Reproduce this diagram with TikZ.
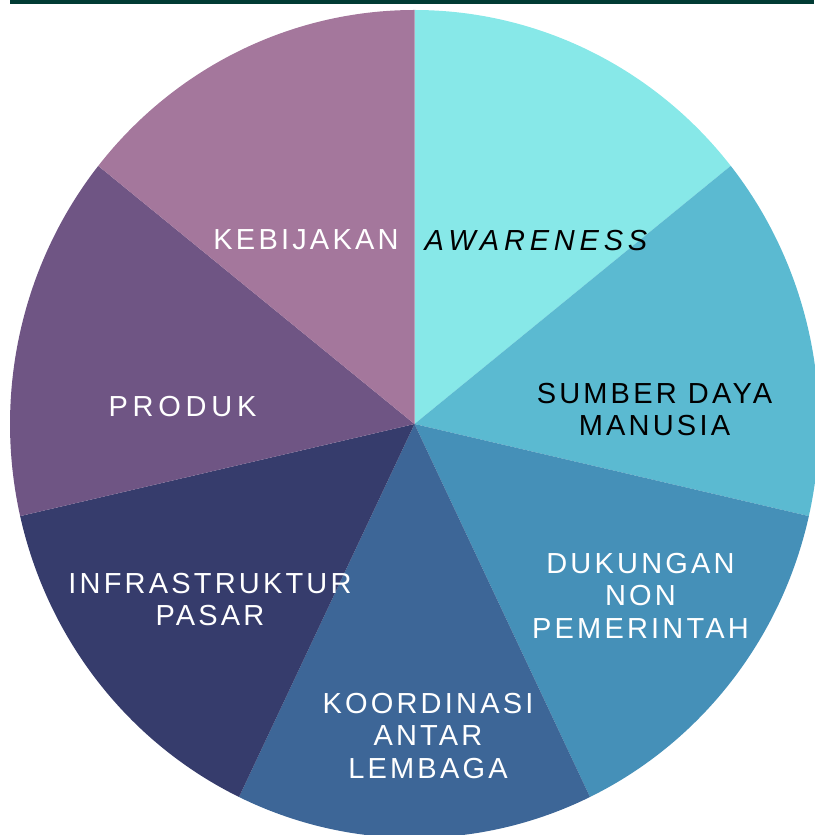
\documentclass[tikz,border=0pt]{standalone}
\usepackage{fontspec}
\setmainfont{Liberation Sans}
\newfontfamily\lblfont[LetterSpace=11]{Liberation Sans}
\newfontfamily\widefont[LetterSpace=16.5]{Liberation Sans}
\definecolor{cAware}{HTML}{87E8E8}
\definecolor{cSumber}{HTML}{5BBAD1}
\definecolor{cDukung}{HTML}{4590B8}
\definecolor{cKoord}{HTML}{3D6697}
\definecolor{cInfra}{HTML}{363C6C}
\definecolor{cProduk}{HTML}{6F5584}
\definecolor{cKebij}{HTML}{A4779C}
\definecolor{cTop}{HTML}{013B34}
\begin{document}
\begin{tikzpicture}[x=1pt,y=1pt,
  lbl/.style={anchor=north,inner sep=0pt,align=center,
    font=\lblfont\fontsize{29}{32.5}\selectfont},
  wide/.style={font=\widefont\fontsize{29}{32.5}\selectfont},
  wlbl/.style={lbl,text=white},
  blbl/.style={lbl,text=black}]
\useasboundingbox (0,0) rectangle (814,835);
\fill[cTop] (10,831.3) rectangle (814,835);
\coordinate (c) at (414.5,411);
\def\rx{404.5}\def\ry{414}
\foreach \s/\e/\col in {90/38.5714/cAware, 38.5714/-12.8571/cSumber,
  -12.8571/-64.2857/cDukung, -64.2857/-115.7143/cKoord,
  -115.7143/-167.1429/cInfra, -167.1429/-218.5714/cProduk,
  -218.5714/-270/cKebij}{
  \fill[\col] (c) -- ++(\s:\rx pt and \ry pt)
    arc[start angle=\s,end angle=\e,x radius=\rx pt,y radius=\ry pt] -- cycle;
}
\node[wlbl] (kebij) at (306,605.4) {KEBIJAKAN};
\node[blbl,font=\widefont\itshape\fontsize{29}{32.5}\selectfont] (aware) at (536,605.4) {AWARENESS};
\node[blbl] (sumber) at (654.5,452.4) {SUMBER DAYA\\MANUSIA};
\node[wlbl] (dukung) at (640.5,282) {DUKUNGAN\\NON\\PEMERINTAH};
\node[wlbl] (koord) at (428,142) {KOORDINASI\\ANTAR\\LEMBAGA};
\node[wlbl] (infra) at (210,262.4) {INFRASTRUKTUR\\PASAR};
\node[wlbl,wide] (produk) at (182.5,439) {PRODUK};
\end{tikzpicture}
\end{document}
